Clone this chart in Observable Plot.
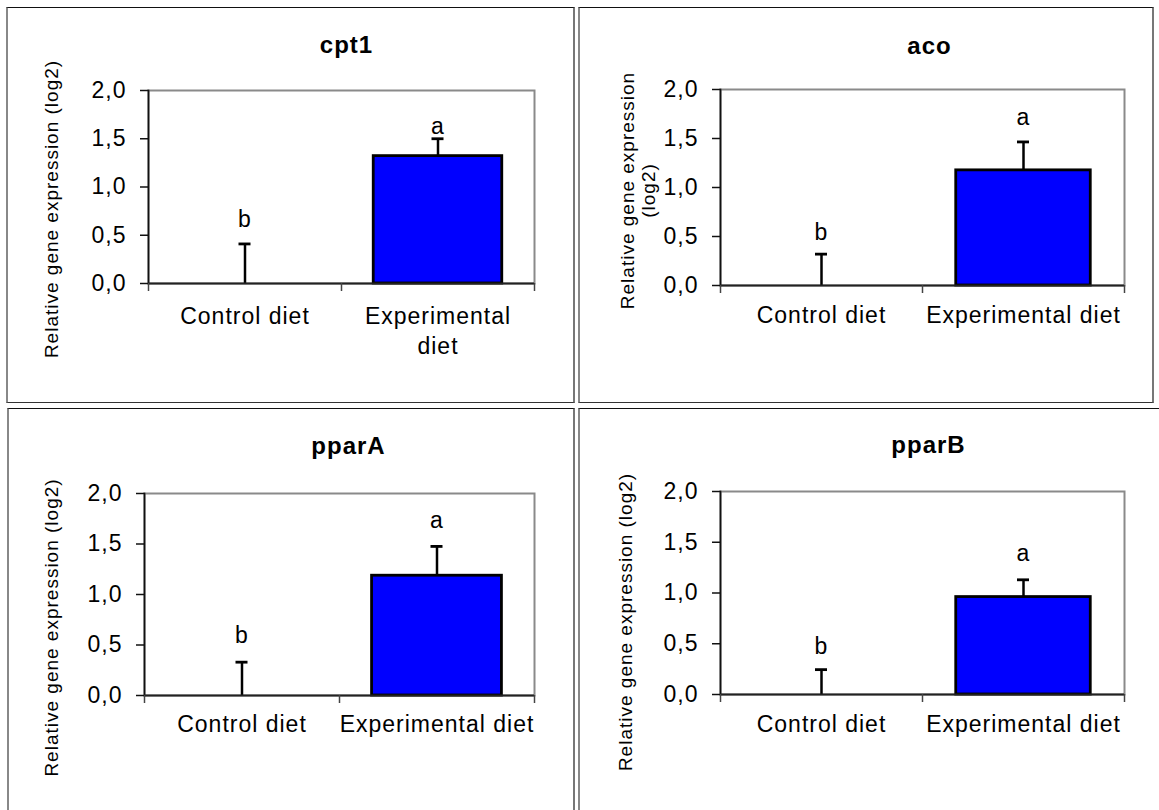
<!DOCTYPE html>
<html><head><meta charset="utf-8">
<script src="https://cdn.jsdelivr.net/npm/d3@7"></script>
<script src="https://cdn.jsdelivr.net/npm/@observablehq/plot@0.6"></script>
<style>
body{margin:0;background:#fff;}
#wrap{position:relative;width:1159px;height:810px;overflow:hidden;background:#fff;font-family:"Liberation Sans",Arial,sans-serif;}
.panel{position:absolute;}
.border{position:absolute;box-sizing:border-box;border-top:1.5px solid #111;border-left:2px solid #888;border-right:2px solid #777;border-bottom:1.5px solid #333;pointer-events:none;}
</style></head><body><div id="wrap"></div>
<script>
// ---- data ----
const genes = ["cpt1", "aco", "pparA", "pparB"];
const categories = ["Control diet", "Experimental diet"];
const controlMeans = [0, 0, 0, 0];
const controlErrors = [0.41, 0.32, 0.33, 0.245];
const experimentalMeans = [1.32, 1.175, 1.186, 0.96];
const experimentalErrors = [0.18, 0.29, 0.29, 0.17];
const significanceLetters = ["b", "a"];
const yTicks = [0, 0.5, 1, 1.5, 2];
const yLabelText = "Relative gene expression (log2)";

// ---- layout (page pixels) ----
const layouts = [
  {box: [6, 7, 575, 403], border: [6, 7, 575, 403], frame: [148, 534, 90, 283], titleDx: 5, titleDy: -38,
   yLabel: yLabelText, yLabelDx: -98, yLabelDy: 22, xLabelDy: 19, wrapExp: true, letterDy: [-17, -5]},
  {box: [578, 7, 1154, 403], border: [578, 7, 1154, 403], frame: [720, 1124, 89, 285], titleDx: 7, titleDy: -36,
   yLabel: "Relative gene expression\n(log2)", yLabelDx: -83, yLabelDy: 3, xLabelDy: 16, wrapExp: false, letterDy: [-14, -17]},
  {box: [7, 408, 575, 812], border: [7, 408, 575, 816], frame: [144, 534, 493, 695], titleDx: 9, titleDy: -40,
   yLabel: yLabelText, yLabelDx: -94, yLabelDy: 33, xLabelDy: 15, wrapExp: false, letterDy: [-19, -18]},
  {box: [578, 408, 1154, 812], border: [578, 408, 1166, 816], frame: [720, 1124, 491, 694], titleDx: 6, titleDy: -39,
   yLabel: yLabelText, yLabelDx: -96, yLabelDy: 29, xLabelDy: 16, wrapExp: false, letterDy: [-16, -19]}
];

const fmt = d => d.toFixed(1).replace(".", ",");
const wrap = document.getElementById("wrap");

genes.forEach((gene, gi) => {
  const L = layouts[gi];
  const [x0, y0, x1, y1] = L.box;
  const [fl, fr, ft, fb] = L.frame;
  const width = x1 - x0, height = y1 - y0;
  const bw = (fr - fl) / categories.length;
  const rows = categories.map((c, ci) => ({
    category: c,
    mean: ci === 0 ? controlMeans[gi] : experimentalMeans[gi],
    err: ci === 0 ? controlErrors[gi] : experimentalErrors[gi],
    letter: significanceLetters[ci],
    letterDy: L.letterDy[ci]
  }));
  const top = d => d.mean + d.err;

  const plot = Plot.plot({
    width, height,
    marginLeft: fl - x0, marginRight: x1 - fr, marginTop: ft - y0, marginBottom: y1 - fb,
    style: {fontFamily: "'Liberation Sans', Arial, sans-serif", background: "transparent", color: "#000", letterSpacing: "1px", overflow: "visible"},
    x: {type: "band", domain: categories, padding: 0, axis: null},
    y: {domain: [0, 2], axis: null},
    marks: [
      Plot.frame({stroke: "#8a8a8a", strokeWidth: 2}),
      Plot.barY(rows.filter(d => d.mean !== 0), {x: "category", y: "mean", fill: "#0000ff", stroke: "#000", strokeWidth: 2.8,
        insetLeft: bw * 0.167, insetRight: bw * 0.167}),
      Plot.ruleX(rows, {x: "category", y1: "mean", y2: top, stroke: "#000", strokeWidth: 2.5}),
      Plot.tickY(rows, {x: "category", y: top, stroke: "#000", strokeWidth: 2.8, insetLeft: bw / 2 - 6, insetRight: bw / 2 - 6}),
      Plot.frame({anchor: "left", stroke: "#111", strokeWidth: 1.7}),
      Plot.ruleY([0], {stroke: "#222", strokeWidth: 2.2}),
      // category boundary ticks
      Plot.ruleX(categories, {x: d => d, dx: -bw / 2, y1: 0, y2: 0, insetBottom: -8, stroke: "#444", strokeWidth: 1.5}),
      Plot.ruleX(categories.slice(-1), {x: d => d, dx: bw / 2, y1: 0, y2: 0, insetBottom: -8, stroke: "#444", strokeWidth: 1.5}),
      Plot.axisY({ticks: yTicks, tickFormat: fmt, tickSize: 8, tickPadding: 14, fontSize: 23, stroke: "#111", strokeWidth: 1.5, label: null}),
      Plot.text(rows, {x: "category", text: d => (L.wrapExp && d.category === "Experimental diet") ? "Experimental\ndiet" : d.category,
        frameAnchor: "bottom", lineAnchor: "top", dy: L.xLabelDy, fontSize: 23, lineHeight: 1.3, fill: "#000"}),
      ...rows.map(r => Plot.text([r], {x: "category", y: top, text: "letter", lineAnchor: "bottom", dy: r.letterDy, fontSize: 23, fill: "#000"})),
      Plot.text([gene], {frameAnchor: "top", lineAnchor: "bottom", dx: L.titleDx, dy: L.titleDy, fontSize: 24, fontWeight: "bold", fill: "#000"}),
      Plot.text([L.yLabel], {frameAnchor: "left", rotate: -90, lineAnchor: "middle", textAnchor: "middle", dx: L.yLabelDx, dy: L.yLabelDy,
        fontSize: 19, lineHeight: 1.15, fill: "#000"})
    ]
  });
  const holder = document.createElement("div");
  holder.className = "panel";
  holder.style.left = x0 + "px"; holder.style.top = y0 + "px";
  holder.appendChild(plot);
  wrap.appendChild(holder);
  const [bx0, by0, bx1, by1] = L.border;
  const border = document.createElement("div");
  border.className = "border";
  Object.assign(border.style, {left: bx0 + "px", top: by0 + "px", width: (bx1 - bx0) + "px", height: (by1 - by0) + "px"});
  wrap.appendChild(border);
});
</script></body></html>
